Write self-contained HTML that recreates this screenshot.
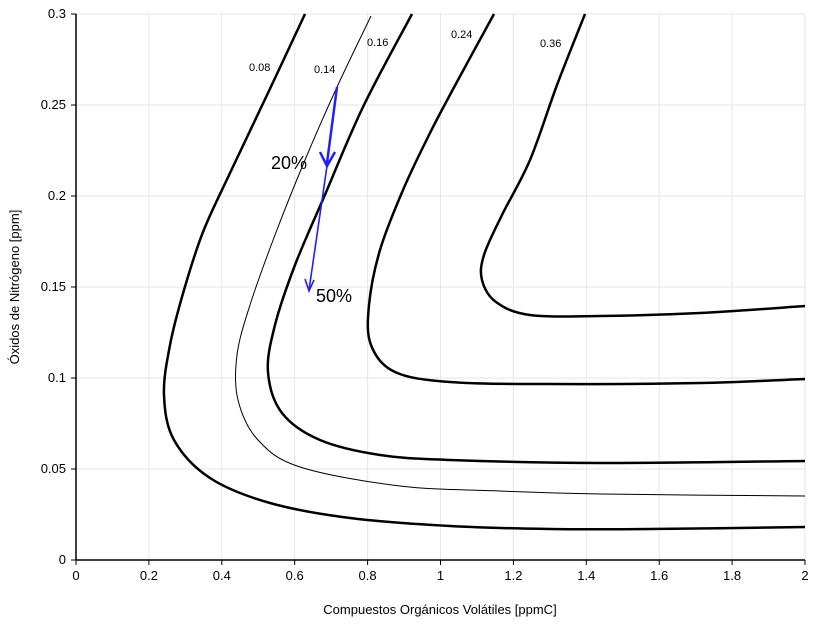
<!DOCTYPE html>
<html><head><meta charset="utf-8"><style>body{margin:0;background:#fff}svg{display:block}text{font-family:"Liberation Sans",sans-serif}</style></head><body>
<svg id="s" width="814" height="625" xmlns="http://www.w3.org/2000/svg">
<g id="grid" stroke="#e6e6e6" stroke-width="1"></g>
<g id="curves" fill="none" stroke="#000"></g>
<line x1="76" y1="560" x2="805" y2="560" stroke="#000" stroke-width="1.5"/>
<line x1="76" y1="14" x2="76" y2="560" stroke="#000" stroke-width="1.5"/>
<g id="ticks" font-size="13" fill="#000"></g>
<g font-size="11" fill="#000">
<text x="249" y="71">0.08</text><text x="314" y="73">0.14</text><text x="367" y="46">0.16</text><text x="451" y="38">0.24</text><text x="540" y="47">0.36</text>
</g>
<g stroke="#1f1fff" fill="none" stroke-width="2.5">
<line x1="337" y1="87" x2="327" y2="163"/>
<polyline points="320,152 327,166 335,152" stroke-width="2.5"/>
<line x1="327" y1="166" x2="309" y2="290" stroke-width="1.6"/>
<polyline points="305,279 309,291 314,280" stroke-width="1.6"/>
</g>
<text x="271" y="169" font-size="18" fill="#000">20%</text>
<text x="316" y="302" font-size="18" fill="#000">50%</text>
<text x="440" y="614" font-size="13" text-anchor="middle">Compuestos Orgánicos Volátiles [ppmC]</text>
<text transform="translate(19,287) rotate(-90)" font-size="13" text-anchor="middle">Óxidos de Nitrógeno [ppm]</text>
</svg>
<script>
const NS="http://www.w3.org/2000/svg";
const X=v=>76+v*364.5, Y=v=>560-v*1820;
const g=document.getElementById('grid'),t=document.getElementById('ticks');
function el(p,tag,a,txt){const e=document.createElementNS(NS,tag);for(const k in a)e.setAttribute(k,a[k]);if(txt!=null)e.textContent=txt;p.appendChild(e);return e;}
for(let i=0;i<=10;i++){const x=X(i*0.2);el(g,'line',{x1:x,y1:14,x2:x,y2:560});el(t,'line',{x1:x,y1:560,x2:x,y2:565,stroke:'#000'});el(t,'text',{x:x,y:580,'text-anchor':'middle'},i==0?'0':(i%5==0?String(i/5):(i*0.2).toFixed(1)));}
for(let j=0;j<=6;j++){const y=Y(j*0.05);el(g,'line',{x1:76,y1:y,x2:805,y2:y});el(t,'line',{x1:71,y1:y,x2:76,y2:y,stroke:'#000'});el(t,'text',{x:66,y:y+4,'text-anchor':'end'},j==0?'0':String(+(j*0.05).toFixed(2)));}
function cr(p){let d='M'+p[0];for(let i=0;i<p.length-1;i++){const a=p[i-1]||p[i],b=p[i],c=p[i+1],e=p[i+2]||c;d+=' C'+(b[0]+(c[0]-a[0])/6)+','+(b[1]+(c[1]-a[1])/6)+' '+(c[0]-(e[0]-b[0])/6)+','+(c[1]-(e[1]-b[1])/6)+' '+c;}return d;}
const C=[
[[[305,14],[268,93],[230,173],[203,232],[184,290],[170,345],[164,395],[174,440],[210,478],[270,503],[350,518],[450,526],[550,529],[650,529],[805,527]],2.5],
[[[371,16],[337,87],[305,160],[275,235],[250,305],[237,355],[238,400],[258,440],[300,467],[400,486],[500,491],[600,494],[805,496]],1],
[[[412,14],[363,107],[324,197],[295,265],[275,325],[268,372],[282,413],[320,440],[380,455],[450,460],[600,463],[805,461]],2.5],
[[[494,14],[458,80],[430,133],[403,190],[380,250],[369,305],[371,345],[395,372],[450,382],[550,384],[700,383],[805,379]],2.5],
[[[585,14],[557,85],[530,160],[502,215],[484,255],[482,280],[496,302],[530,315],[600,316],[700,313],[805,306]],2.5]];
const cg=document.getElementById('curves');
C.forEach(([p,w])=>el(cg,'path',{d:cr(p),'stroke-width':w}));
</script>
</body></html>
